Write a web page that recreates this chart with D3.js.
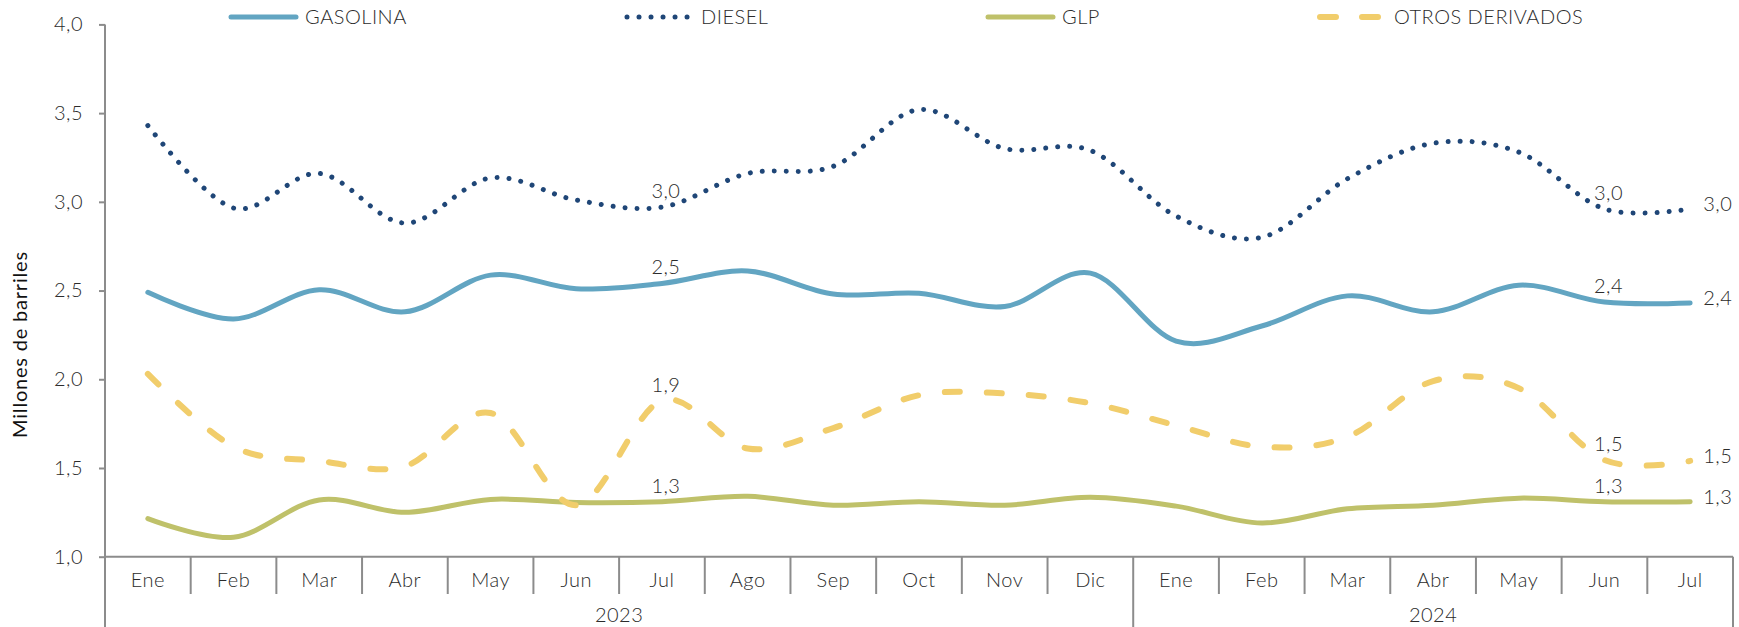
<!DOCTYPE html>
<html lang="es">
<head>
<meta charset="UTF-8">
<title>Derivados de petróleo</title>
<script src="https://d3js.org/d3.v7.min.js"></script>
<style>
    body { margin: 0; background: #fff; }
    svg { display: block; font-family: "Lato", "DejaVu Sans", sans-serif; }
    .lbl { font-size: 20px; font-weight: 300; fill: #2b2b2b; letter-spacing: 0.5px; }
</style>
</head>
<body>
<div id="chart"></div>
<script>
    // categorias
    const months = ["Ene", "Feb", "Mar", "Abr", "May", "Jun", "Jul", "Ago", "Sep", "Oct", "Nov", "Dic",
                    "Ene", "Feb", "Mar", "Abr", "May", "Jun", "Jul"];
    const yearLabels = ["2023", "2024"];
    const yearCounts = [12, 7];
    const yTicks = [1.0, 1.5, 2.0, 2.5, 3.0, 3.5, 4.0];

    // millones de barriles
    const gasolina = [2.49, 2.34, 2.505, 2.38, 2.587, 2.51, 2.54, 2.61, 2.48, 2.485, 2.41, 2.598,
                      2.215, 2.30, 2.47, 2.38, 2.53, 2.435, 2.43];
    const diesel   = [3.43, 2.965, 3.16, 2.88, 3.135, 3.01, 2.97, 3.16, 3.20, 3.52, 3.30, 3.29,
                      2.92, 2.80, 3.13, 3.33, 3.28, 2.96, 2.96];
    const glp      = [1.215, 1.11, 1.32, 1.25, 1.323, 1.305, 1.31, 1.34, 1.29, 1.31, 1.29, 1.335,
                      1.285, 1.19, 1.27, 1.29, 1.33, 1.31, 1.31];
    const otros    = [2.03, 1.62, 1.54, 1.51, 1.81, 1.29, 1.88, 1.61, 1.725, 1.91, 1.92, 1.865,
                      1.74, 1.62, 1.675, 1.99, 1.95, 1.545, 1.54];

    const labelAbove = [6, 17];
    const labelRight = 18;

    const W = 1739, H = 627;
    const pLeft = 105, pRight = 1733, pTop = 24.4, pBottom = 556.7;
    const axisColor = "#8c8c8c";

    const series = [
        { name: "GASOLINA", values: gasolina, color: "#62a5c2", width: 5, dash: null, lx: 228 },
        { name: "DIESEL", values: diesel, color: "#1f4677", width: 5, dash: "0.01 12", lx: 624 },
        { name: "GLP", values: glp, color: "#bfc16a", width: 5, dash: null, lx: 985 },
        { name: "OTROS DERIVADOS", values: otros, color: "#f1cd6b", width: 6, dash: "15 27", lx: 1317 }
    ];

    const svg = d3.select("#chart").append("svg")
        .attr("width", W)
        .attr("height", H);

    const x = d3.scaleBand().domain(d3.range(months.length)).range([pLeft, pRight]);
    const y = d3.scaleLinear().domain([1, 4]).range([pBottom, pTop]);
    const cx = i => x(i) + x.bandwidth() / 2;
    const fmt = v => v.toFixed(1).replace(".", ",");

    // eje Y
    const yAxis = svg.append("g")
        .attr("transform", `translate(${pLeft},0)`)
        .call(d3.axisLeft(y).tickValues(yTicks).tickSize(6).tickSizeOuter(0).tickPadding(16).tickFormat(fmt));
    yAxis.select(".domain").remove();
    yAxis.selectAll(".tick line").attr("stroke", axisColor).attr("stroke-width", 2);
    yAxis.attr("font-family", null).attr("font-size", null);
    yAxis.selectAll(".tick text").attr("class", "lbl").attr("fill", null);

    svg.append("line")
        .attr("x1", pLeft).attr("x2", pLeft)
        .attr("y1", pTop).attr("y2", H)
        .attr("stroke", axisColor).attr("stroke-width", 2);

    svg.append("text")
        .attr("transform", `translate(27,${(pTop + pBottom) / 2 + 54}) rotate(-90)`)
        .attr("text-anchor", "middle")
        .style("font-size", "20px")
        .style("font-weight", 400)
        .style("letter-spacing", "0.8px")
        .attr("fill", "#111")
        .text("Millones de barriles");

    // eje X
    svg.append("line")
        .attr("x1", pLeft).attr("x2", pRight)
        .attr("y1", pBottom).attr("y2", pBottom)
        .attr("stroke", axisColor).attr("stroke-width", 2);

    const yearEdges = [0];
    yearCounts.forEach((n, i) => yearEdges.push(yearEdges[i] + n));

    svg.selectAll(".div")
        .data(d3.range(1, months.length + 1))
        .join("line")
        .attr("x1", i => x(i - 1) + x.bandwidth())
        .attr("x2", i => x(i - 1) + x.bandwidth())
        .attr("y1", pBottom)
        .attr("y2", i => yearEdges.includes(i) ? H : 594)
        .attr("stroke", axisColor).attr("stroke-width", 2);

    svg.selectAll(".mes")
        .data(months)
        .join("text")
        .attr("class", "lbl")
        .attr("x", (d, i) => cx(i))
        .attr("y", 587)
        .attr("text-anchor", "middle")
        .text(d => d);

    svg.selectAll(".anio")
        .data(yearLabels)
        .join("text")
        .attr("class", "lbl")
        .attr("x", (d, i) => (x(yearEdges[i]) + x(yearEdges[i + 1] - 1) + x.bandwidth()) / 2)
        .attr("y", 622)
        .attr("text-anchor", "middle")
        .text(d => d);

    // lineas
    const line = d3.line()
        .x((d, i) => cx(i))
        .y(d => y(d))
        .curve(d3.curveCardinal.tension(0));

    series.forEach(s => {
        svg.append("path")
            .datum(s.values)
            .attr("d", line)
            .attr("fill", "none")
            .attr("stroke", s.color)
            .attr("stroke-width", s.width)
            .attr("stroke-linecap", "round")
            .attr("stroke-dasharray", s.dash);

        labelAbove.forEach(i => {
            svg.append("text")
                .attr("class", "lbl")
                .attr("x", cx(i) + 4)
                .attr("y", y(s.values[i]) - 9)
                .attr("text-anchor", "middle")
                .text(fmt(s.values[i]));
        });

        svg.append("text")
            .attr("class", "lbl")
            .attr("x", cx(labelRight) + 13)
            .attr("y", y(s.values[labelRight]) + 2)
            .text(fmt(s.values[labelRight]));

        // leyenda
        svg.append("line")
            .attr("x1", s.lx + 3).attr("x2", s.lx + 68)
            .attr("y1", 17).attr("y2", 17)
            .attr("stroke", s.color)
            .attr("stroke-width", s.width)
            .attr("stroke-linecap", "round")
            .attr("stroke-dasharray", s.name === "OTROS DERIVADOS" ? "16 26" : s.dash);
        svg.append("text")
            .attr("class", "lbl")
            .attr("x", s.lx + 77)
            .attr("y", 24)
            .text(s.name);
    });
</script>
</body>
</html>
